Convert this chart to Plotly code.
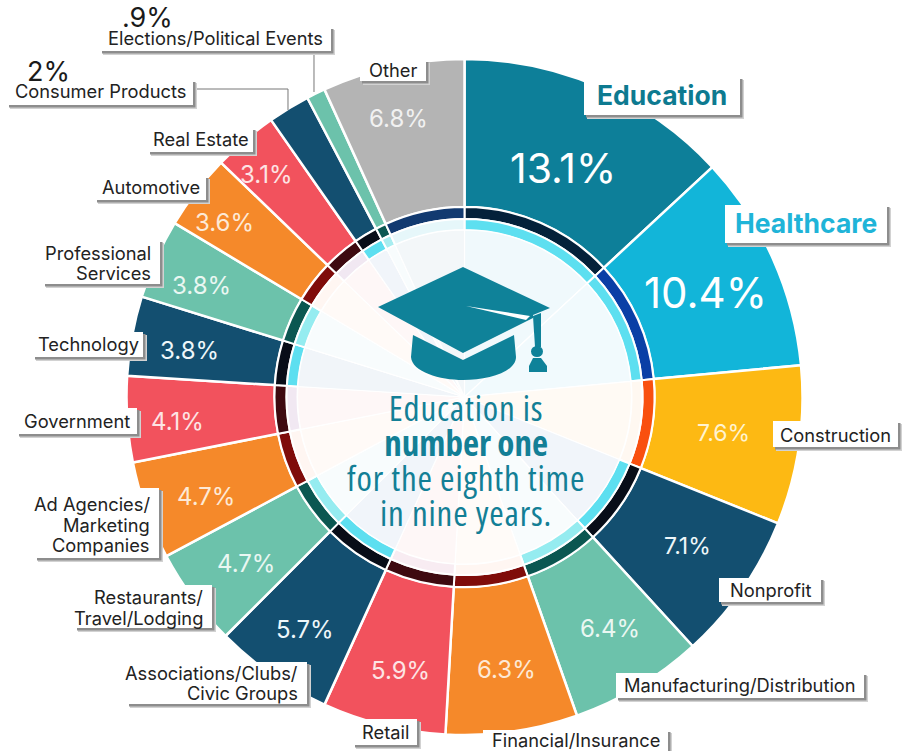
import plotly.graph_objects as go

W, H = 905, 751
CX, CY, R = 464.5, 397, 338

# Industry shares, clockwise from twelve o'clock
categories = ["Education", "Healthcare", "Construction", "Nonprofit",
              "Manufacturing/Distribution", "Financial/Insurance", "Retail",
              "Associations/Clubs/Civic Groups", "Restaurants/Travel/Lodging",
              "Ad Agencies/Marketing Companies", "Government", "Technology",
              "Professional Services", "Automotive", "Real Estate",
              "Consumer Products", "Elections/Political Events", "Other"]
shares = [13.1, 10.4, 7.6, 7.1, 6.4, 6.3, 5.9, 5.7, 4.7, 4.7, 4.1, 3.8, 3.8, 3.6, 3.1, 2, 0.9, 6.8]
share_text = ["13.1%", "10.4%", "7.6%", "7.1%", "6.4%", "6.3%", "5.9%", "5.7%", "4.7%",
              "4.7%", "4.1%", "3.8%", "3.8%", "3.6%", "3.1%", "2%", ".9%", "6.8%"]

NAVY, TEAL, ORANGE, RED = "#134f70", "#6cc2ab", "#f5892a", "#f2525d"
outer_colors = ["#0d7f99", "#12b5d9", "#fdb913", NAVY, TEAL, ORANGE, RED, NAVY, TEAL,
                ORANGE, RED, NAVY, TEAL, ORANGE, RED, NAVY, TEAL, "#b4b4b4"]
dark_ring = ["#04213a", "#0a3fa6", "#f9500f", "#080d18", "#0b5751", "#7f0c0a", "#3e0a10",
             "#080d18", "#0b5751", "#7f0c0a", "#3e0a10", "#080d18", "#0b5751", "#7f0c0a",
             "#3e0a10", "#080d18", "#0b5751", "#123a70"]
light_ring = ["#5ddff0", "#5ddff0", "#fff8f1", "#5ddff0", "#95ecf0", "#fff6f2", "#f8ecf2",
              "#5ddff0", "#95ecf0", "#fff6f2", "#f1e8f2", "#5ddff0", "#95ecf0", "#fff6f2",
              "#f1e8f2", "#5ddff0", "#a8edf0", "#e6f7fa"]
center_fill = ["#f0f9fc", "#f1fafd", "#fffaf4", "#f1f5fa", "#f8fcfd", "#fffbf8", "#fef7f7",
               "#f1f5fa", "#f8fcfd", "#fffaf7", "#fef7f7", "#f1f5f9", "#f8fcfd", "#fffaf7",
               "#fef7f7", "#f1f5fa", "#f8fcfd", "#f3f7f9"]

# Lines of each side label with their baseline centres, and the white plate behind them
labels = [
    (["Other"], [70], (360, 60, 426, 81), "center"),
    (["Elections/Political Events"], [38], (100, 27, 331, 51), "center"),
    (["Consumer Products"], [91], (7, 80, 193, 105), "center"),
    (["Real Estate"], [139], (148, 128, 253, 152), "center"),
    (["Automotive"], [187], (95, 176, 206, 200), "center"),
    (["Professional", "Services"], [253, 273], (43, 240, 160, 284), "right"),
    (["Technology"], [344], (33, 332, 143, 357), "center"),
    (["Government"], [421], (17, 408, 137, 434), "center"),
    (["Ad Agencies/", "Marketing", "Companies"], [504, 525, 545], (35, 488, 159, 558), "right"),
    (["Restaurants/", "Travel/Lodging"], [597, 618], (75, 585, 212, 628), "right"),
    (["Associations/Clubs/", "Civic Groups"], [673, 693], (127, 662, 307, 704), "right"),
    (["Retail"], [732], (353, 719, 417, 745), "center"),
    (["Financial/Insurance"], [740], (483, 730, 668, 751), "center"),
    (["Manufacturing/Distribution"], [685], (616, 673, 864, 698), "center"),
    (["Nonprofit"], [590], (719, 578, 821, 602), "center"),
    (["Construction"], [435], (773, 421, 898, 447), "center"),
]
# Centre point and size of each printed share, same order as shares
share_pos = [(563, 168, 41), (705, 293, 42), (723, 433, 23), (687, 546, 23), (610, 628, 24),
             (506, 669, 24), (400, 670, 24), (305, 629, 24), (206, 496, 24), (246, 563, 24),
             (177, 422, 24), (189, 350, 24), (201, 286, 24), (224, 223, 24), (266, 174, 24),
             (48, 72, 27), (147, 17, 27), (398, 119, 24)]
share_color = ["#ffffff", "#ffffff", "#fff3d0", "#eef7fa", "#eaf7f2", "#fde9d6", "#fde4e4",
               "#eef7fa", "#fde9d6", "#eaf7f2", "#fde4e4", "#eef7fa", "#eaf7f2", "#fde9d6",
               "#fde4e4", "#1a1a1a", "#1a1a1a", "#f1f1f1"]

headline = [("Education is", False), ("number one", True),
            ("for the eighth time", False), ("in nine years.", False)]

CAP = "#0f8299"


def px(x):
    return x / W


def py(y):
    return 1 - y / H


def ring(radius, hole, colors, line_w):
    return go.Pie(
        values=shares, labels=categories, sort=False, direction="clockwise", rotation=0,
        hole=hole / radius, textinfo="none", hoverinfo="label+value", showlegend=False,
        marker=dict(colors=colors, line=dict(color="#ffffff", width=line_w)),
        domain=dict(x=[px(CX - radius), px(CX + radius)], y=[py(CY + radius), py(CY - radius)]),
    )


fig = go.Figure([ring(R, 190, outer_colors, 2.5), ring(190, 178, dark_ring, 2),
                 ring(178, 167, light_ring, 2), ring(167, 0, center_fill, 1.2)])


def path(points, close=True):
    d = ""
    for i, p in enumerate(points):
        d += ("M" if i == 0 else "L") + f"{px(p[0]):.5f},{py(p[1]):.5f} "
    return d + ("Z" if close else "")


def curve(*segments):
    # Sequence of commands, each with its own control points, for the rounded parts of the cap
    d = ""
    for cmd, pts in segments:
        d += cmd + " ".join(f"{px(x):.5f},{py(y):.5f}" for x, y in pts) + " "
    return d + "Z"


shapes = []


def solid(d, color):
    shapes.append(dict(type="path", xref="paper", yref="paper", path=d,
                       fillcolor=color, line=dict(width=0), layer="above"))


def rect(x0, y0, x1, y1, color):
    shapes.append(dict(type="rect", xref="paper", yref="paper", x0=px(x0), x1=px(x1),
                       y0=py(y1), y1=py(y0), fillcolor=color, line=dict(width=0), layer="above"))


def plate(box):
    x0, y0, x1, y1 = box
    rect(x0 + 3, y0 + 3, x1 + 4, y1 + 4, "#d2d2d2")
    rect(x0 + 2, y0 + 2, x1 + 2.5, y1 + 2.5, "#8d8d8d")
    rect(x0, y0, x1, y1, "#ffffff")


# Leader lines to the two narrowest slices
for pts in ([(193, 89), (288, 89), (288, 110)], [(314, 51), (314, 92)]):
    shapes.append(dict(type="path", xref="paper", yref="paper", path=path(pts, close=False),
                       line=dict(color="#777777", width=1), layer="above"))

annotations = []


def text(x, y, s, size, color, family="Inter", anchor="center", align="center"):
    annotations.append(dict(x=px(x), y=py(y), xref="paper", yref="paper", text=s, showarrow=False,
                            xanchor=anchor, yanchor="middle", align=align,
                            font=dict(size=size, color=color, family=family)))


for lines, ys, box, mode in labels:
    plate(box)
    for s, y in zip(lines, ys):
        if mode == "right":
            text(box[2] - 7, y, s, 18.3, "#222222", anchor="right", align="right")
        else:
            text((box[0] + box[2]) / 2, y, s, 18.3, "#222222")

for box, name, color in (((584, 77, 740, 115), "Education", "#0d7a90"),
                         ((725, 205, 887, 243), "Healthcare", "#1fb4d8")):
    plate(box)
    text((box[0] + box[2]) / 2, (box[1] + box[3]) / 2 - 1, f"<b>{name}</b>", 26.5, color)

for s, (x, y, size), color in zip(share_text, share_pos, share_color):
    text(x, y, s, size, color)

# Headline in a condensed cut; the base size sets the line pitch, the span sets the glyph size
rows = []
for s, strong in headline:
    spacing = 0 if strong else 0.8
    inner = f'<span style="font-stretch:75%;font-size:35px;letter-spacing:{spacing}px">{s}</span>'
    rows.append(f"<b>{inner}</b>" if strong else inner)
text(466, 459.5, "<br>".join(rows), 27, "#137f96", family="Open Sans")

# Mortarboard, drawn over the pale centre
solid(path([(463, 267), (550, 308), (533, 315), (533, 318), (463, 353), (378, 307)]), CAP)
solid(path([(466, 306), (530, 316), (526, 320)]), "#ffffff")
solid(path([(533, 316), (541, 313), (541, 347), (535, 347)]), CAP)
solid(curve(("M", [(413, 335)]), ("L", [(411, 357)]),
            ("C", [(412, 372), (440, 380), (463, 380)]),
            ("C", [(488, 380), (516, 372), (516, 357)]),
            ("L", [(514, 335)]), ("L", [(463, 360)])), CAP)
shapes.append(dict(type="circle", xref="paper", yref="paper", x0=px(531), x1=px(543),
                   y0=py(357), y1=py(346), fillcolor=CAP, line=dict(width=0), layer="above"))
solid(path([(533, 358), (541, 358), (547, 366), (547, 372), (529, 372), (529, 366)]), CAP)

fig.update_layout(width=W, height=H, margin=dict(l=0, r=0, t=0, b=0), paper_bgcolor="#ffffff",
                  shapes=shapes, annotations=annotations)
fig.write_html("out.html")
